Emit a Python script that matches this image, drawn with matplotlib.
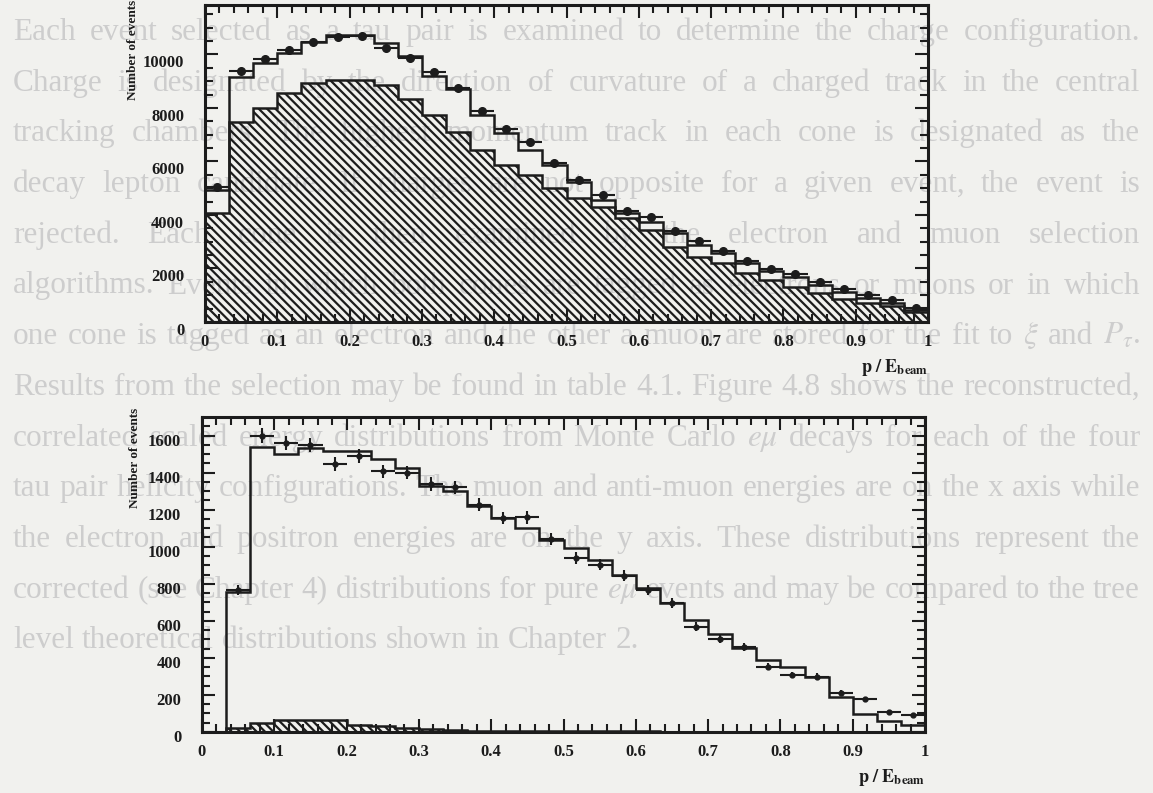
import matplotlib
matplotlib.use('Agg')
import matplotlib.pyplot as plt
import matplotlib.transforms as mtransforms
import numpy as np

plt.rcParams['font.family'] = ['Liberation Serif', 'DejaVu Serif']
plt.rcParams['mathtext.fontset'] = 'stix'
plt.rcParams['hatch.linewidth'] = 1.6

# 30 bins in p/E_beam
edges = np.linspace(0, 1, 31)
centers = 0.5 * (edges[:-1] + edges[1:])

# upper panel: data points, open MC histogram, hatched component
top_data = [5050, 9390, 9820, 10170, 10480, 10670, 10700, 10260, 9860, 9360,
            8740, 7870, 7220, 6740, 5930, 5310, 4750, 4160, 3910, 3410,
            3040, 2670, 2290, 1970, 1800, 1480, 1220, 1010, 820, 510]
top_mc = [4950, 9160, 9680, 10050, 10480, 10730, 10730, 10420, 9950, 9200,
          8700, 7740, 7070, 6430, 5870, 5250, 4560, 4070, 3750, 3320,
          2880, 2580, 2200, 1920, 1690, 1380, 1130, 890, 710, 450]
top_hatch = [4070, 7490, 7990, 8550, 8920, 9050, 9050, 8860, 8330, 7740,
             7120, 6430, 5870, 5500, 5010, 4640, 4310, 3890, 3440, 2820,
             2440, 2190, 1820, 1570, 1320, 1100, 850, 700, 600, 390]

# lower panel
bot_data = [np.nan, 767, 1598, 1559, 1550, 1447, 1490, 1406, 1400, 1339,
            1321, 1226, 1154, 1159, 1040, 938, 902, 844, 767, 695,
            569, 500, 457, 353, 308, 299, 212, 176, 110, 92]
bot_err = [0, 28, 40, 39, 39, 38, 39, 37, 37, 37,
           36, 35, 34, 34, 32, 31, 30, 29, 28, 26,
           24, 22, 21, 19, 18, 17, 15, 13, 11, 10]
bot_mc = [0, 757, 1537, 1501, 1532, 1514, 1519, 1473, 1424, 1328,
          1298, 1217, 1154, 1100, 1037, 992, 929, 848, 776, 698,
          605, 529, 452, 389, 349, 299, 187, 97, 61, 38]
bot_hatch = [0, 20, 47, 65, 65, 65, 38, 32, 22, 16,
             10, 8, 8, 6, 5, 4, 4, 3, 3, 2,
             2, 2, 1, 1, 1, 1, 0, 0, 0, 0]

xticks = [0, 0.1, 0.2, 0.3, 0.4, 0.5, 0.6, 0.7, 0.8, 0.9, 1]
xticklabels = ['0', '0.1', '0.2', '0.3', '0.4', '0.5', '0.6', '0.7', '0.8', '0.9', '1']

page_text = [
    "Each event selected as a tau pair is examined to determine the charge configuration.",
    "Charge is designated by the direction of curvature of a charged track in the central",
    "tracking chambers. The highest momentum track in each cone is designated as the",
    "decay lepton candidate. If charges are not opposite for a given event, the event is",
    "rejected. Each cone is then examined by the electron and muon selection",
    "algorithms. Events in which both cones are tagged as electrons or muons or in which",
    r"one cone is tagged as an electron and the other a muon are stored for the fit to $\xi$ and $P_\tau$.",
    "Results from the selection may be found in table 4.1. Figure 4.8 shows the reconstructed,",
    r"correlated scaled energy distributions from Monte Carlo $e\mu$ decays for each of the four",
    "tau pair helicity configurations. The muon and anti-muon energies are on the x axis while",
    "the electron and positron energies are on the y axis. These distributions represent the",
    r"corrected (see Chapter 4) distributions for pure $e\mu$ events and may be compared to the tree",
    "level theoretical distributions shown in Chapter 2.",
]

W, H = 1153, 793
bg = '#f1f1ee'
ink = '#1c1c1c'
fig = plt.figure(figsize=(W / 100, H / 100), dpi=100, facecolor=bg)
renderer = fig.canvas.get_renderer()

# faint page text behind the plots, justified
x0, x1 = 13, 1140
for i, line in enumerate(page_text):
    yb = 1 - (40 + 50.7 * i) / H
    words = line.split(' ')
    arts = [fig.text(0, yb, w, fontsize=22.5, color='#cdcdcd', va='baseline',
                     ha='left', zorder=-5) for w in words]
    widths = [a.get_window_extent(renderer).width for a in arts]
    if i == len(page_text) - 1:
        gap = 8
    else:
        gap = (x1 - x0 - sum(widths)) / (len(words) - 1)
    x = x0
    for a, w in zip(arts, widths):
        a.set_x(x / W)
        x += w + gap


def style_axes(ax, ymax, yminor, yticks, ylab_pos, yoff):
    ax.set_facecolor('none')
    ax.set_xlim(0, 1)
    ax.set_ylim(0, ymax)
    for s in ax.spines.values():
        s.set_linewidth(2.2)
        s.set_color(ink)
    ax.set_xticks(xticks)
    ax.set_xticklabels(xticklabels)
    ax.set_xticks(np.arange(0, 1.001, 0.02), minor=True)
    ax.set_yticks(yticks)
    ax.set_yticks(np.arange(0, ymax, yminor), minor=True)
    ax.tick_params(which='both', direction='in', top=True, right=True,
                   color=ink, width=1.5)
    ax.tick_params(which='major', length=9.5, pad=9)
    ax.tick_params(which='minor', length=5.5)
    ax.tick_params(axis='y', which='major', pad=15)
    for lab in ax.get_xticklabels() + ax.get_yticklabels():
        lab.set_fontweight('bold')
        lab.set_fontsize(12)
        lab.set_color(ink)
    off = mtransforms.ScaledTranslation(0, -yoff / 100, fig.dpi_scale_trans)
    for lab in ax.get_yticklabels():
        lab.set_transform(lab.get_transform() + off)
    ax.text(ylab_pos[0], ylab_pos[1], 'Number of events', rotation=90,
            transform=ax.transAxes, ha='center', va='center', fontsize=9.5,
            fontweight='bold', color=ink)
    ax.text(1.0, -0.145, r'$\mathbf{p\ /\ E_{beam}}$', transform=ax.transAxes,
            ha='right', va='center', fontsize=13, color=ink)


# upper panel
ax1 = fig.add_axes([205 / W, 1 - 322 / H, 723 / W, 317 / H])
ax1.stairs(top_hatch, edges, fill=True, facecolor='none', edgecolor=ink,
           hatch='\\\\\\\\', linewidth=1.8)
ax1.stairs(top_mc, edges, color=ink, linewidth=1.8)
ax1.errorbar(centers, top_data, xerr=0.5 / 30, fmt='o', ms=5.5, color=ink,
             elinewidth=1.5, capsize=0)
style_axes(ax1, 11850, 500, [0, 2000, 4000, 6000, 8000, 10000],
           (-0.10, 0.86), 7)

# lower panel
ax2 = fig.add_axes([202 / W, 1 - 732 / H, 723 / W, 315 / H])
ax2.stairs(bot_hatch, edges, fill=True, facecolor='none', edgecolor=ink,
           hatch='\\\\\\\\', linewidth=1.8)
ax2.stairs(bot_mc, edges, color=ink, linewidth=1.8)
ax2.errorbar(centers, bot_data, xerr=0.5 / 30, yerr=bot_err, fmt='o', ms=3.5,
             color=ink, elinewidth=1.5, capsize=0)
style_axes(ax2, 1700, 50, [0, 200, 400, 600, 800, 1000, 1200, 1400, 1600],
           (-0.093, 0.87), 4)

fig.savefig('out.png', dpi=100, facecolor=bg)
